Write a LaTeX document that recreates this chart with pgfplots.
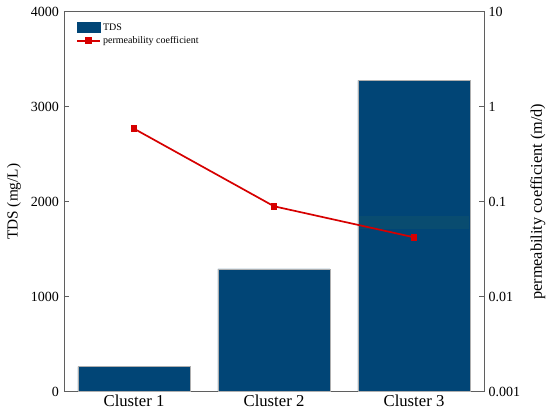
\documentclass[border=0pt]{standalone}
\usepackage{pgfplots}
\pgfplotsset{compat=1.18}
\usepackage{fontspec}
\setmainfont{Liberation Serif}
\definecolor{barblue}{RGB}{1,69,118}
\definecolor{bandcol}{RGB}{9,76,112}
\definecolor{linered}{RGB}{214,0,0}
\definecolor{axgray}{RGB}{95,95,95}
\definecolor{baredge}{RGB}{175,175,175}
\pgfplotsset{
  linelegend/.style={legend image code/.code={\draw[mark repeat=2,mark phase=2,##1] plot coordinates {(0pt,0pt) (11.5pt,0pt) (23pt,0pt)};}},
}
\begin{document}
\begin{tikzpicture}
\useasboundingbox (-64pt,-26.3pt) rectangle (486pt,391.7pt);
\begin{axis}[
  at={(0pt,0pt)}, anchor=south west,
  scale only axis, width=420pt, height=380pt,
  xmin=0.5, xmax=3.5, ymin=0, ymax=4000,
  xtick={1,2,3}, xticklabels={Cluster 1,Cluster 2,Cluster 3},
  ytick={0,1000,2000,3000,4000},
  ytick pos=left, xtick pos=bottom,
  x tick style={draw=none},
  y tick style={axgray, line width=0.8pt},
  major tick length=5pt,
  axis line style={axgray, line width=0.9pt},
  /pgf/number format/assume math mode=true,
  scaled y ticks=false,
  yticklabel style={font=\fontsize{14}{16}\selectfont, xshift=-1.5pt, /pgf/number format/.cd, fixed, 1000 sep={}},
  xticklabel style={font=\fontsize{16.7}{19}\selectfont},
  ylabel={TDS (mg/L)},
  ylabel style={font=\fontsize{15.3}{17}\selectfont, at={(axis description cs:-0.119,0.5)}, anchor=center},
  legend style={draw=none, fill=none, inner sep=0pt, at={(axis description cs:0.029,0.975)}, anchor=north west, font=\fontsize{10}{12}\selectfont, row sep=1pt, cells={anchor=west}},
  legend cell align=left,
]
\addplot[ybar, bar width=112pt, fill=barblue, draw=baredge, line width=0.5pt,
  area legend,
  legend image code/.code={\fill[barblue] (0pt,-5pt) rectangle (22.7pt,5pt);}]
  coordinates {(1,265) (2,1292) (3,3278)};
\addlegendentry{TDS}
\addplot[fill=bandcol, draw=none, forget plot]
  coordinates {(2.605,1713) (3.395,1713) (3.395,1849) (2.605,1849)};
\addlegendimage{linered, line width=1.7pt, mark=square*, mark size=2.6pt, linelegend}
\addlegendentry{permeability coefficient}
\end{axis}
\begin{axis}[
  at={(0pt,0pt)}, anchor=south west,
  scale only axis, width=420pt, height=380pt,
  xmin=0.5, xmax=3.5, ymode=log, ymin=0.001, ymax=10,
  axis x line=none, axis y line*=right,
  ytick={0.001,0.01,0.1,1,10},
  yticklabels={0.001,0.01,0.1,1,10},
  yminorticks=false,
  y tick style={axgray, line width=0.8pt},
  major tick length=5pt,
  axis line style={axgray, line width=0.9pt, -},
  yticklabel style={font=\fontsize{14}{16}\selectfont, xshift=1pt},
  ylabel={permeability coefficient (m/d)},
  ylabel style={font=\fontsize{16.3}{18}\selectfont, at={(axis description cs:1.1286,0.5)}, anchor=center},
]
\addplot[linered, line width=1.7pt, mark=square*, mark size=2.6pt]
  coordinates {(1,0.587) (2,0.0895) (3,0.0422)};
\end{axis}
\end{tikzpicture}
\end{document}
